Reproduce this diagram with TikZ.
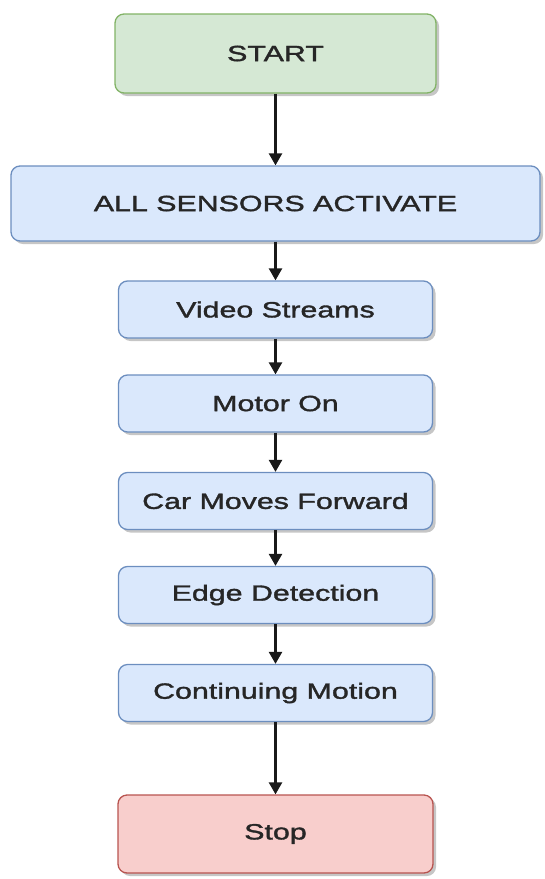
\documentclass[tikz,border=0pt]{standalone}
\usepackage{fontspec}
\setmainfont{Liberation Sans}[FakeStretch=1.38,FakeBold=1.6]
\usetikzlibrary{arrows.meta,shadows}
\definecolor{startfill}{HTML}{D5E8D4}
\definecolor{startline}{HTML}{82B366}
\definecolor{stepfill}{HTML}{DAE8FC}
\definecolor{stepline}{HTML}{6C8EBF}
\definecolor{stopfill}{HTML}{F8CECC}
\definecolor{stopline}{HTML}{B85450}
\begin{document}
\begin{tikzpicture}[x=1pt,y=-1pt,
  flowbox/.style={draw, rounded corners=9pt, line width=1.3pt, text=black!85,
    minimum width=314pt, minimum height=57pt, font=\fontsize{22}{26}\selectfont,
    drop shadow={opacity=0.45, shadow xshift=3pt, shadow yshift=-3pt}},
  stepbox/.style={flowbox, draw=stepline, fill=stepfill},
  flow/.style={-{Triangle[length=12pt,width=13pt]}, line width=2.4pt, black!90}]
\useasboundingbox (0,0) rectangle (545,879);

\node[flowbox, draw=startline, fill=startfill, minimum width=321pt, minimum height=79pt] (start) at (275.5,53.5) {START};
\node[stepbox, minimum width=529pt, minimum height=75pt] (sensors) at (275.5,203.5) {ALL SENSORS ACTIVATE};
\node[stepbox] (video) at (275.5,309.5) {Video Streams};
\node[stepbox] (motor) at (275.5,403.5) {Motor On};
\node[stepbox] (forward) at (275.5,501) {Car Moves Forward};
\node[stepbox] (edge) at (275.5,595) {Edge Detection};
\node[stepbox] (motion) at (275.5,693) {Continuing Motion};
\node[flowbox, draw=stopline, fill=stopfill, minimum width=315pt, minimum height=78pt] (stop) at (275.5,834) {Stop};

\draw[flow] (start) -- (sensors);
\draw[flow] (sensors) -- (video);
\draw[flow] (video) -- (motor);
\draw[flow] (motor) -- (forward);
\draw[flow] (forward) -- (edge);
\draw[flow] (edge) -- (motion);
\draw[flow] (motion) -- (stop);
\end{tikzpicture}
\end{document}
